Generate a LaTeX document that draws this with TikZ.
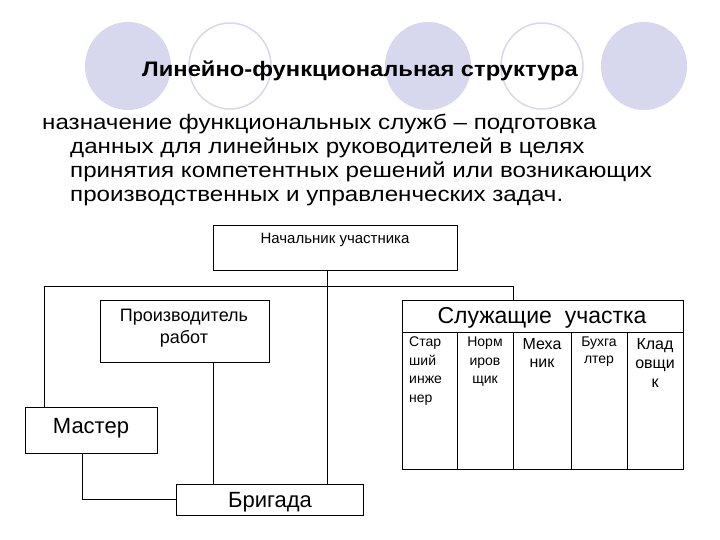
\documentclass[tikz,border=0pt]{standalone}
\usepackage{fontspec}
\usepackage{graphicx}
\setmainfont{Liberation Sans}
\begin{document}
\begin{tikzpicture}[x=1pt,y=-1pt,
  bx/.style={draw,line width=0.8pt,inner sep=0pt},
  ln/.style={line width=0.8pt},
  fc/.style={fill=lavender,draw=none},
  oc/.style={draw=lavender,line width=1.5pt}]
\definecolor{lavender}{RGB}{215,215,238}
\useasboundingbox (0,0) rectangle (720,540);
\fill[fc] (128,66) ellipse (43 and 44);
\draw[oc] (230,66) ellipse (41 and 43);
\fill[fc] (428,66) ellipse (43 and 44);
\draw[oc] (542,66) ellipse (41 and 43);
\fill[fc] (644,66) ellipse (43 and 44);
\node[font=\fontsize{21}{24}\selectfont\bfseries] (title) at (360,71) {\scalebox{1.13}[1]{Линейно-функциональная структура}};
\node[anchor=north west,align=left,inner sep=0pt,font=\fontsize{21}{23.8}\selectfont] (txt) at (42,114) {\scalebox{1.15}[1]{назначение функциональных служб – подготовка}\\
\hspace*{28pt}\scalebox{1.15}[1]{данных для линейных руководителей в целях}\\
\hspace*{28pt}\scalebox{1.15}[1]{принятия компетентных решений или возникающих}\\
\hspace*{28pt}\scalebox{1.15}[1]{производственных и управленческих задач.}};
\node[bx,minimum width=244,minimum height=45,anchor=north west] (nach) at (213,225) {};
\node[font=\fontsize{15}{18}\selectfont] at (335,240) {Начальник участника};
\node[bx,minimum width=169,minimum height=62,anchor=north west] (proiz) at (100,300) {};
\node[align=center,font=\fontsize{18}{22}\selectfont] at (184,328) {Производитель\\работ};
\node[bx,minimum width=132,minimum height=46,anchor=north west] (master) at (25,407) {};
\node[font=\fontsize{22}{26}\selectfont] at (91,428) {Мастер};
\node[bx,minimum width=187,minimum height=31,anchor=north west] (brig) at (176,484) {};
\node[font=\fontsize{22}{26}\selectfont] at (270,502) {Бригада};
\node[bx,minimum width=281,minimum height=169,anchor=north west] (sl) at (402,300) {};
\coordinate (hl) at (44,286);
\coordinate (hr) at (513,286);
\draw[ln] (hl) -- (hr) -- (sl.north -| hr);
\draw[ln] (hl) -- (master.north -| hl);
\draw[ln] (nach.south -| 327,0) -- (brig.north -| 327,0);
\draw[ln] (proiz.south -| 213,0) -- (brig.north -| 213,0);
\draw[ln] (master.south -| 82,0) |- (brig.west |- 0,499);
\draw[ln] (402,332) -- (683,332);
\foreach \x in {457,513,571,627} \draw[ln] (\x,332) -- (\x,469);
\node[font=\fontsize{23}{26}\selectfont] (slh) at (542,318) {Служащие\ \ участка};
\node[anchor=north west,align=left,inner sep=0pt,font=\fontsize{14}{18.5}\selectfont] (c1) at (409,337) {Стар\\ший\\инже\\нер};
\node[anchor=north,align=center,inner sep=0pt,font=\fontsize{14}{18.5}\selectfont] (c2) at (485,337) {Норм\\иров\\щик};
\node[anchor=north,align=center,inner sep=0pt,font=\fontsize{16}{18.5}\selectfont] (c3) at (542,338) {Меха\\ник};
\node[anchor=north,align=center,inner sep=0pt,font=\fontsize{14}{17}\selectfont] (c4) at (599,337) {Бухга\\лтер};
\node[anchor=north,align=center,inner sep=0pt,font=\fontsize{16}{19}\selectfont] (c5) at (655,338) {Клад\\овщи\\к};
\end{tikzpicture}
\end{document}
